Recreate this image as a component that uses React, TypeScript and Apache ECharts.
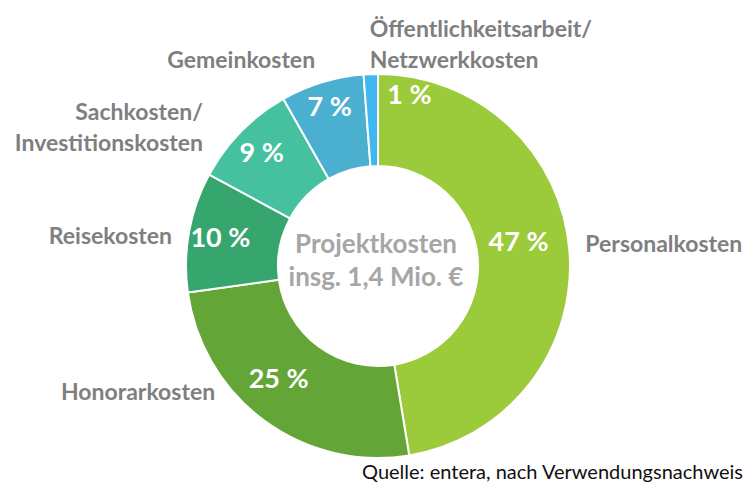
import React, { useEffect, useRef } from "react";
import * as echarts from "echarts";

const categories = [
  "Personalkosten",
  "Honorarkosten",
  "Reisekosten",
  "Sachkosten/\nInvestitionskosten",
  "Gemeinkosten",
  "Öffentlichkeitsarbeit/\nNetzwerkkosten",
];
const shares = [47.4, 25.4, 10.1, 8.9, 7.0, 1.2];
const sliceColors = ["#9BCB3B", "#63A637", "#36A56E", "#45C1A0", "#4BB0D0", "#3DB8F0"];
const centerLines = ["Projektkosten", "insg. 1,4 Mio. €"];
const sourceNote = "Quelle: entera, nach Verwendungsnachweis";

// label fine-tuning (shifts relative to library-computed label anchors)
const innerShift = [
  [-8, -13],
  [-11, -8],
  [-11, -3],
  [-10, -10],
  [-5, -18],
  [37, -24],
];
const outerShift = [
  [11, -7],
  [-44, -30],
  [-12, 3],
  [-33, -5],
  [-2, -23],
  [4, -31],
];
const outerAlign = [null, null, null, null, null, "left"];

const FONT = "Lato, 'Open Sans', sans-serif";

export default function App() {
  const ref = useRef<HTMLDivElement>(null);
  useEffect(() => {
    if (!ref.current) return;
    const chart = echarts.init(ref.current, undefined, { renderer: "svg" });
    const center = [378, 266];
    const radius = [100, 192];
    const data = categories.map((name, i) => ({
      name,
      value: shares[i],
      itemStyle: { color: sliceColors[i] },
    }));
    chart.setOption({
      animation: false,
      backgroundColor: "#ffffff",
      series: [
        {
          type: "pie",
          center,
          radius,
          startAngle: 90,
          clockwise: true,
          avoidLabelOverlap: false,
          emphasis: { disabled: true },
          itemStyle: { borderColor: "#ffffff", borderWidth: 2 },
          label: {
            show: true,
            position: "inside",
            formatter: (p: any) => `${Math.round(p.value)} %`,
            color: "#ffffff",
            fontFamily: FONT,
            fontWeight: "bold",
            fontSize: 27,
          },
          labelLine: { show: false },
          labelLayout: (p: any) => ({
            dx: innerShift[p.dataIndex][0],
            dy: innerShift[p.dataIndex][1],
          }),
          data,
        },
        {
          type: "pie",
          center,
          radius,
          startAngle: 90,
          clockwise: true,
          silent: true,
          avoidLabelOverlap: false,
          emphasis: { disabled: true },
          itemStyle: { color: "rgba(0,0,0,0)", borderWidth: 0 },
          label: {
            show: true,
            position: "outside",
            formatter: "{b}",
            color: "#7F7F7F",
            fontFamily: FONT,
            fontWeight: "bold",
            fontSize: 23,
            lineHeight: 31,
            distanceToLabelLine: 5,
          },
          labelLine: { show: false, length: 0, length2: 0 },
          labelLayout: (p: any) => {
            const i = p.dataIndex;
            const o: any = { dx: outerShift[i][0], dy: outerShift[i][1] };
            if (outerAlign[i]) o.align = outerAlign[i];
            return o;
          },
          data: categories.map((name, i) => ({ name, value: shares[i] })),
        },
      ],
      graphic: [
        {
          type: "text",
          x: 376,
          y: 259,
          silent: true,
          style: {
            text: centerLines.join("\n"),
            fill: "#A6A6A6",
            font: `bold 26px ${FONT}`,
            lineHeight: 33,
            align: "center",
            verticalAlign: "middle",
          },
        },
        {
          type: "text",
          x: 743,
          y: 471,
          silent: true,
          style: {
            text: sourceNote,
            fill: "#111111",
            font: `20px ${FONT}`,
            align: "right",
            verticalAlign: "middle",
          },
        },
      ],
    });
    return () => chart.dispose();
  }, []);
  return (
    <div
      ref={ref}
      style={{ position: "absolute", left: 0, top: 0, width: 750, height: 486 }}
    />
  );
}
